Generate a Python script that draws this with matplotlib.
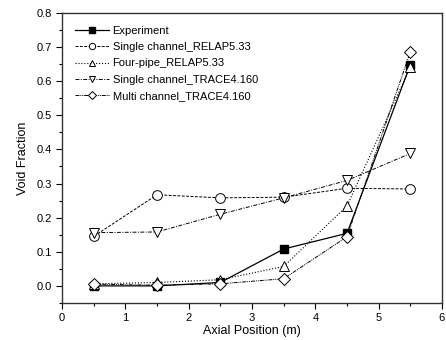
import numpy as np
import matplotlib.pyplot as plt
from matplotlib.ticker import MultipleLocator

plt.rcParams['font.family'] = ['Liberation Sans', 'DejaVu Sans']

x = [0.5, 1.5, 2.5, 3.5, 4.5, 5.5]
experiment = [0.0, 0.0, 0.01, 0.108, 0.154, 0.648]
single_relap = [0.145, 0.267, 0.258, 0.26, 0.286, 0.284]
four_pipe_relap = [0.006, 0.01, 0.018, 0.057, 0.234, 0.641]
single_trace = [0.156, 0.158, 0.21, 0.258, 0.309, 0.388]
multi_trace = [0.005, 0.002, 0.006, 0.021, 0.144, 0.686]

fig = plt.figure(figsize=(4.46, 3.40), dpi=100)
ax = fig.add_axes([0.139, 0.109, 0.852, 0.853])

ms = 7
ax.plot(x, experiment, '-', color='black', lw=0.9, marker='s', ms=6,
        mfc='black', mec='black', label='Experiment')
ax.plot(x, single_relap, '--', color='black', lw=0.7, marker='o', ms=ms,
        mfc='white', mec='black', mew=0.7, dashes=(3, 1.5), label='Single channel_RELAP5.33')
ax.plot(x, four_pipe_relap, ':', color='black', lw=0.8, marker='^', ms=ms,
        mfc='white', mec='black', mew=0.7, label='Four-pipe_RELAP5.33')
ax.plot(x, single_trace, '-.', color='black', lw=0.7, marker='v', ms=ms,
        mfc='white', mec='black', mew=0.7, dashes=(4, 1.5, 1, 1.5), label='Single channel_TRACE4.160')
ax.plot(x, multi_trace, color='black', lw=0.7, marker='D', ms=6,
        mfc='white', mec='black', mew=0.7, dashes=(4, 1, 1, 1, 1, 1), label='Multi channel_TRACE4.160')

ax.set_xlim(0, 6)
ax.set_ylim(-0.05, 0.8)
ax.xaxis.set_major_locator(MultipleLocator(1))
ax.xaxis.set_minor_locator(MultipleLocator(0.5))
ax.yaxis.set_major_locator(MultipleLocator(0.1))
ax.yaxis.set_minor_locator(MultipleLocator(0.05))
ax.tick_params(which='major', direction='out', length=4, width=0.8, labelsize=8)
ax.tick_params(which='minor', direction='out', length=2.5, width=0.8)
ax.yaxis.set_major_formatter(plt.FuncFormatter(lambda v, p: f'{v:.1f}'))
for s in ax.spines.values():
    s.set_linewidth(1.0)
    s.set_color('#333333')

ax.set_xlabel('Axial Position (m)', fontsize=9, labelpad=1)
ax.set_ylabel('Void Fraction', fontsize=9, labelpad=5)

ax.legend(loc='upper left', frameon=False, fontsize=8, handlelength=3.0,
          handletextpad=0.35, labelspacing=0.55, borderaxespad=0.8,
          markerscale=0.65)

fig.savefig('out.png', dpi=100)
